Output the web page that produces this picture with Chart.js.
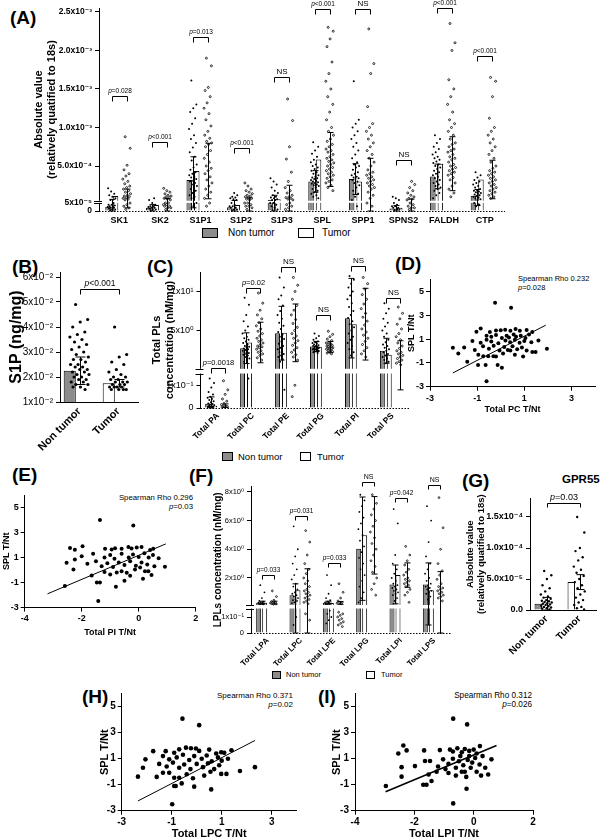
<!DOCTYPE html>
<html>
<head>
<meta charset="utf-8">
<script src="https://cdn.jsdelivr.net/npm/chart.js@4.4.1/dist/chart.umd.min.js"></script>
<style>
  body { margin: 0; width: 600px; height: 839px; overflow: hidden; background: #fff; position: relative;
         font-family: 'Liberation Sans', 'DejaVu Sans', sans-serif; color: #000; }
  canvas { position: absolute; }
  .tag { position: absolute; font-weight: bold; font-size: 19px; line-height: 20px; }
  .t { position: absolute; white-space: nowrap; line-height: 1; }
  .sw { position: absolute; border: 1px solid #000; box-sizing: border-box; }
</style>
</head>
<body>
<div class="tag" style="left:10px;top:8px">(A)</div>
<div class="tag" style="left:12px;top:257px">(B)</div>
<div class="tag" style="left:147px;top:257px">(C)</div>
<div class="tag" style="left:395px;top:254px">(D)</div>
<div class="tag" style="left:12px;top:465px">(E)</div>
<div class="tag" style="left:189px;top:466px">(F)</div>
<div class="tag" style="left:462px;top:471px">(G)</div>
<div class="tag" style="left:82px;top:687px">(H)</div>
<div class="tag" style="left:318px;top:687px">(I)</div>

<!-- legends -->
<div class="sw" style="left:202px;top:228px;width:16px;height:10px;background:#8c8c8c"></div>
<div class="t" style="left:228px;top:228px;font-size:10px">Non tumor</div>
<div class="sw" style="left:298px;top:228px;width:16px;height:10px;background:#fff"></div>
<div class="t" style="left:322px;top:228px;font-size:10px">Tumor</div>

<div class="sw" style="left:222px;top:452px;width:11px;height:9px;background:#8c8c8c"></div>
<div class="t" style="left:238px;top:452px;font-size:9.5px">Non tumor</div>
<div class="sw" style="left:300px;top:452px;width:11px;height:9px;background:#fff"></div>
<div class="t" style="left:317px;top:452px;font-size:9.5px">Tumor</div>

<div class="sw" style="left:272px;top:671px;width:9px;height:8px;background:#8c8c8c"></div>
<div class="t" style="left:286px;top:671px;font-size:7.5px">Non tumor</div>
<div class="sw" style="left:366px;top:671px;width:9px;height:8px;background:#fff"></div>
<div class="t" style="left:381px;top:671px;font-size:7.5px">Tumor</div>

<!-- annotations -->
<div class="t" style="left:518px;top:275px;font-size:7.5px">Spearman Rho 0.232</div>
<div class="t" style="left:518px;top:284px;font-size:7.5px"><i>p</i>=0.028</div>
<div class="t" style="right:407px;top:494px;font-size:7.8px;text-align:right">Spearman Rho 0.296<br><span style="line-height:10px"><i>p</i>=0.03</span></div>
<div class="t" style="right:307px;top:692px;font-size:8px;text-align:right">Spearman Rho 0.371<br><span style="line-height:10px"><i>p</i>=0.02</span></div>
<div class="t" style="right:68px;top:692px;font-size:8.2px;text-align:right">Spearman Rho 0.312<br><span style="line-height:10px"><i>p</i>=0.026</span></div>
<div class="t" style="left:562px;top:474px;font-size:11.5px;font-weight:bold">GPR55</div>

<script>
// ---------- (A) expression per gene, values in units of 1e-5 ----------
const aGenes = ['SK1', 'SK2', 'S1P1', 'S1P2', 'S1P3', 'SPL', 'SPP1', 'SPNS2', 'FALDH', 'CTP'];
const aNtMean = [2.7, 2, 32, 2.3, 6, 30, 33, 1.5, 36.5, 11.5];
const aTuMean = [11, 3.7, 43.5, 3.7, 7, 58.5, 30, 2, 53, 32.5];
const aNtSd = [4, 2, 30, 3, 6, 14, 20, 2, 16, 8];
const aTuSd = [9, 4, 36, 5, 18, 35, 30, 5, 35, 25];
const aNtDots = [
  [0.5, 1, 1, 1.5, 2, 2, 2.5, 3, 3, 3.5, 4, 4, 5, 6, 8, 10, 12, 14, 17, 21],
  [0.5, 1, 1, 1.5, 2, 2, 2.5, 3, 3, 4, 5, 6, 8],
  [161, 130, 125, 120, 112, 105, 98, 90, 85, 80, 74, 68, 62, 57, 52, 48, 45, 42, 40, 38, 36, 35, 33, 31, 30, 28, 26, 24, 22, 20, 18, 15, 12, 10, 8, 5, 3],
  [0.5, 1, 1, 2, 2, 3, 3, 4, 5, 6, 7, 8, 9, 10, 12, 15],
  [0.5, 1, 2, 3, 4, 5, 5, 6, 6, 7, 8, 9, 10, 12, 15, 18, 22, 26, 30, 34],
  [81, 75, 70, 66, 62, 58, 55, 52, 50, 48, 46, 44, 42, 40, 38, 36, 35, 34, 33, 32, 31, 30, 29, 28, 27, 26, 25, 24, 22, 20, 18, 16, 14, 12, 10, 8],
  [160, 110, 105, 100, 95, 90, 85, 80, 75, 70, 65, 60, 55, 52, 50, 48, 45, 42, 40, 38, 36, 35, 34, 33, 32, 30, 28, 25, 22, 18, 14, 10, 6, 3],
  [0.5, 1, 1, 2, 2, 3, 3, 4, 5, 6, 8, 10],
  [90, 85, 80, 75, 72, 68, 65, 62, 60, 58, 56, 54, 52, 50, 48, 46, 44, 42, 40, 38, 36, 34, 32, 30, 28, 26, 24, 22, 20, 18, 15, 12, 8],
  [42, 38, 35, 32, 30, 28, 26, 24, 22, 20, 19, 18, 17, 16, 15, 14, 13, 12, 11, 10, 9, 8, 7, 6, 5, 4, 3]
];
const aTuDots = [
  [88, 73, 51, 45, 40, 37, 33, 30, 27, 24, 22, 20, 18, 16, 14, 12, 11, 10, 9, 8, 7, 6, 5, 4, 3, 2, 1],
  [1, 2, 2, 3, 3, 4, 4, 5, 5, 6, 7, 8, 9, 10, 11, 12, 14, 16, 18, 21],
  [190, 180, 152, 148, 140, 132, 125, 118, 110, 102, 95, 90, 86, 82, 80, 78, 75, 70, 65, 60, 55, 50, 47, 44, 40, 36, 32, 28, 24, 20, 16, 12, 8, 5, 3],
  [1, 2, 3, 3, 4, 5, 5, 6, 7, 8, 9, 10, 11, 12, 14, 16, 18, 20, 24, 28],
  [137, 109, 75, 59, 42, 30, 22, 18, 15, 12, 10, 9, 8, 7, 6, 5, 4, 3, 2, 1],
  [230, 225, 215, 205, 185, 170, 160, 150, 140, 130, 120, 110, 100, 95, 90, 85, 82, 78, 75, 72, 70, 68, 65, 62, 60, 58, 56, 54, 52, 50, 48, 46, 44, 42, 40, 38, 36, 34, 32, 30, 28, 25, 22, 18],
  [228, 183, 170, 127, 105, 100, 95, 90, 85, 80, 75, 70, 65, 60, 55, 50, 45, 42, 40, 38, 36, 34, 32, 30, 28, 26, 24, 22, 20, 16, 12, 8, 5, 3],
  [1, 2, 2, 3, 4, 5, 6, 7, 8, 10, 12, 15, 18, 22, 26, 30],
  [235, 210, 200, 162, 150, 140, 130, 120, 110, 105, 100, 95, 90, 85, 80, 78, 75, 72, 70, 68, 65, 62, 60, 58, 55, 52, 50, 48, 46, 44, 42, 40, 38, 35, 32, 28, 24, 20, 15, 10],
  [165, 160, 140, 112, 100, 95, 90, 85, 80, 75, 70, 65, 60, 55, 50, 47, 44, 42, 40, 38, 36, 34, 32, 30, 28, 26, 24, 22, 20, 18, 16, 14, 12, 10, 8]
];
const aBracket = [140.5, 80.7, 217.7, 73, 166, 253.5, 253.5, 58.4, 254.8, 193];
const aPval = ['p=0.028', 'p<0.001', 'p=0.013', 'p<0.001', 'NS', 'p<0.001', 'NS', 'NS', 'p<0.001', 'p<0.001'];
const aTicks = [0, 5, 50, 100, 150, 200, 250];
const aTickLabels = ['0', '5x10⁻⁵', '5.0x10⁻⁴', '1.0x10⁻³', '1.5x10⁻³', '2.0x10⁻³', '2.5x10⁻³'];

// ---------- (B) S1P ng/mg ----------
const bGroups = ['Non tumor', 'Tumor'];
const bMean = [0.0225, 0.0175];
const bSd = [0.0055, 0.0015];
const bNtDots = [0.049, 0.043, 0.042, 0.04, 0.038, 0.037, 0.036, 0.035, 0.034, 0.033, 0.032, 0.031, 0.03, 0.029, 0.028, 0.027, 0.027, 0.026, 0.025, 0.025, 0.024, 0.024, 0.023, 0.023, 0.022, 0.022, 0.021, 0.021, 0.02, 0.02, 0.019, 0.019, 0.018, 0.018, 0.017, 0.017, 0.016, 0.016, 0.015];
const bTuDots = [0.04, 0.029, 0.028, 0.026, 0.025, 0.023, 0.022, 0.021, 0.02, 0.02, 0.019, 0.019, 0.018, 0.018, 0.018, 0.017, 0.017, 0.017, 0.016, 0.016, 0.016, 0.016, 0.015, 0.015, 0.015, 0.015];
const bBracket = 0.0553;
const bPval = 'p<0.001';
const bTicks = [0.01, 0.02, 0.03, 0.04, 0.05, 0.06];
const bTickLabels = ['1x10⁻²', '2x10⁻²', '3x10⁻²', '4x10⁻²', '5x10⁻²', '6x10⁻²'];

// ---------- (C) phospholipids nM/mg ----------
const cLipids = ['Total PA', 'Total PC', 'Total PE', 'Total PG', 'Total PI', 'Total PS'];
const cNtMean = [0.019, 2.73, 4.65, 2.95, 6.58, 2.4];
const cTuMean = [0.01, 3.46, 4.7, 2.9, 5.81, 1.88];
const cNtSd = [0.03, 1.97, 3.45, 0.65, 5.1, 1.6];
const cTuSd = [0.008, 2.6, 3.7, 0.7, 4.6, 1.8];
const cNtDots = [
  [0.13, 0.11, 0.09, 0.07, 0.06, 0.05, 0.045, 0.04, 0.035, 0.03, 0.025, 0.02, 0.018, 0.015, 0.012, 0.01, 0.008, 0.006, 0.005, 0.004, 0.003, 0.002],
  [9.2, 8.3, 7.0, 6.2, 5.5, 5.0, 4.6, 4.2, 4.0, 3.8, 3.6, 3.4, 3.2, 3.0, 2.9, 2.8, 2.7, 2.6, 2.5, 2.4, 2.3, 2.2, 2.1, 2.0, 1.9, 1.8, 1.6, 1.4, 1.2, 1.0, 0.13],
  [11.8, 10.5, 9.5, 9.0, 8.2, 7.5, 7.0, 6.5, 6.0, 5.6, 5.2, 4.8, 4.5, 4.2, 3.9, 3.6, 3.3, 3.0, 2.8, 2.6, 2.4, 2.2, 2.0, 1.8, 1.6, 1.3, 1.0, 0.08],
  [4.6, 4.3, 4.0, 3.8, 3.6, 3.5, 3.4, 3.3, 3.2, 3.1, 3.0, 3.0, 2.9, 2.9, 2.8, 2.8, 2.7, 2.7, 2.6, 2.6, 2.5, 2.5, 2.4, 2.3, 2.2, 2.1],
  [12.0, 11.5, 11.0, 10.5, 10.0, 9.5, 9.0, 8.5, 8.0, 7.5, 7.0, 6.6, 6.2, 5.8, 5.4, 5.0, 4.6, 4.2, 3.8, 3.4, 3.0, 2.6, 2.2, 1.8],
  [8.5, 7.8, 7.2, 6.5, 6.0, 5.5, 5.0, 4.6, 4.2, 3.8, 3.5, 3.2, 3.0, 2.8, 2.6, 2.4, 2.2, 2.0, 1.8, 1.6, 1.4, 1.2, 1.0, 0.8]
];
const cTuDots = [
  [0.12, 0.08, 0.06, 0.04, 0.03, 0.02, 0.015, 0.01, 0.008, 0.006, 0.005, 0.004, 0.003, 0.002],
  [9.8, 8.5, 7.6, 7.0, 6.5, 6.0, 5.6, 5.2, 4.9, 4.6, 4.3, 4.0, 3.8, 3.6, 3.4, 3.2, 3.0, 2.9, 2.8, 2.6, 2.4, 2.2, 2.0, 1.8, 1.5, 1.2],
  [11.8, 10.8, 10.0, 9.0, 8.2, 7.6, 7.0, 6.4, 5.9, 5.4, 5.0, 4.6, 4.3, 4.0, 3.7, 3.4, 3.1, 2.8, 2.5, 2.2, 1.9, 1.6, 1.2, 0.1, 0.05],
  [4.9, 4.5, 4.2, 3.9, 3.7, 3.5, 3.4, 3.3, 3.2, 3.1, 3.0, 3.0, 2.9, 2.9, 2.8, 2.8, 2.7, 2.7, 2.6, 2.6, 2.5, 2.4, 2.3, 2.2, 2.1, 2.0],
  [11.8, 11.0, 10.3, 9.6, 9.0, 8.4, 7.8, 7.2, 6.7, 6.2, 5.7, 5.2, 4.8, 4.4, 4.0, 3.6, 3.2, 2.8, 2.4, 2.0, 1.6],
  [8.0, 7.2, 6.5, 5.8, 5.2, 4.6, 4.2, 3.8, 3.4, 3.0, 2.7, 2.4, 2.2, 2.0, 1.8, 1.6, 1.4, 1.2, 1.0, 0.8, 0.6]
];
const cBracket = [0.25, 10.4, 13.2, 7.0, 13.3, 9.2];
const cPval = ['p=0.0018', 'p=0.02', 'NS', 'NS', 'NS', 'NS'];
const cTicks = [0, 0.1, 5, 10];
const cTickLabels = ['0', '1x10⁻¹', '5x10⁰', '1x10¹'];

// ---------- (F) lysophospholipids nM/mg ----------
const fLipids = ['Total LPA', 'Total LPC', 'Total LPE', 'Total LPG', 'Total LPI', 'Total LPS'];
const fNtMean = [0.28, 0.79, 0.28, 4.04, 1.55, 1.55];
const fTuMean = [0.28, 1.14, 0.26, 4.97, 2.2, 1.14];
const fNtSd = [0.1, 0.8, 0.1, 3.6, 1.35, 1.5];
const fTuSd = [0.1, 1.5, 0.1, 2.7, 0.85, 1.3];
const fNtDots = [
  [1.5, 1.0, 0.6, 0.4, 0.35, 0.3, 0.28, 0.26, 0.24, 0.22, 0.2, 0.18, 0.16],
  [5.6, 4.0, 3.5, 3.0, 2.6, 2.2, 1.9, 1.6, 1.4, 1.2, 1.0, 0.9, 0.8, 0.7, 0.6, 0.5, 0.45, 0.4, 0.3, 0.25, 0.1, 0.05],
  [2.2, 1.5, 0.9, 0.6, 0.45, 0.35, 0.3, 0.27, 0.25, 0.22, 0.2, 0.18, 0.14, 0.12, 0.1, 0.08, 0.06],
  [7.8, 7.4, 7.0, 6.6, 6.2, 5.8, 5.4, 5.0, 4.6, 4.2, 3.8, 3.4, 3.0, 2.6, 2.2, 1.8, 1.4, 1.0, 0.6, 0.3],
  [6.8, 5.8, 3.6, 3.0, 2.6, 2.3, 2.0, 1.8, 1.6, 1.5, 1.4, 1.3, 1.2, 1.1, 1.0, 0.9, 0.8, 0.6, 0.4],
  [7.0, 6.0, 4.5, 3.5, 3.0, 2.6, 2.3, 2.0, 1.8, 1.6, 1.5, 1.4, 1.3, 1.2, 1.1, 1.0, 0.9, 0.7, 0.5]
];
const fTuDots = [
  [1.1, 0.7, 0.45, 0.35, 0.3, 0.27, 0.25, 0.23, 0.21, 0.19, 0.17],
  [5.3, 4.5, 3.6, 3.0, 2.6, 2.3, 2.0, 1.8, 1.6, 1.4, 1.2, 1.1, 1.0, 0.9, 0.8, 0.7, 0.6, 0.5, 0.4, 0.3, 0.2, 0.12, 0.08],
  [1.6, 1.0, 0.6, 0.4, 0.3, 0.26, 0.24, 0.2, 0.13, 0.12, 0.11, 0.1, 0.09, 0.08, 0.07, 0.06, 0.05, 0.04],
  [7.8, 7.2, 6.8, 6.4, 6.0, 5.6, 5.2, 4.8, 4.4, 4.0, 3.6, 3.2, 2.8, 2.4, 2.0, 1.6, 1.2, 0.8],
  [4.2, 3.6, 3.2, 2.9, 2.6, 2.4, 2.2, 2.0, 1.9, 1.8, 1.7, 1.6, 1.5, 1.4, 1.2, 1.0, 0.8, 0.3],
  [7.6, 5.5, 4.0, 3.0, 2.5, 2.2, 1.9, 1.6, 1.4, 1.3, 1.2, 1.1, 1.0, 0.9, 0.8, 0.7, 0.6, 0.4]
];
const fBracket = [2.21, 6.32, 3.06, 8.71, 7.59, 8.48];
const fPval = ['p=0.033', 'p=0.031', 'p=0.033', 'NS', 'p=0.042', 'NS'];
const fTicks = [0, 0.1, 2, 4, 6, 8];
const fTickLabels = ['0', '1x10⁻¹', '2x10⁰', '4x10⁰', '6x10⁰', '8x10⁰'];

// ---------- (G) GPR55, values in units of 1e-5 ----------
const gGroups = ['Non tumor', 'Tumor'];
const gMean = [1.0, 4.5];
const gSd = [1.0, 1.2];
const gNtDots = [6.3, 5.6, 5.0, 4.0, 3.5, 3.0, 2.5, 2.2, 2.0, 1.8, 1.6, 1.5, 1.4, 1.3, 1.2, 1.1, 1.0, 0.9, 0.8, 0.7, 0.6, 0.5, 0.4, 0.3, 0.2, 0.1];
const gTuDots = [15, 12.5, 10, 9.5, 8.5, 8, 7, 6.5, 6, 5.5, 5, 4.5, 4, 3.5, 3, 2.5, 2, 1.6, 1.2, 0.8, 0.5, 0.3, 0.1];
const gBracket = 17.3;
const gPval = 'p=0.03';
const gTicks = [0, 5, 10, 15];
const gTickLabels = ['0.0', '5.0x10⁻⁵', '1.0x10⁻⁴', '1.5x10⁻⁴'];

// ---------- correlations (T/Nt ratios) ----------
const dPcTNt = [-0.24, 0.44, -2.03, -0.6, 1.96, -1.42,
  -0.85, -1.03, -0.46, -0.2, 0.0, 0.19, 0.41, 0.63, 0.81, 1.1, 1.34,
  -0.6, -0.4, -0.2, 0.05, 0.25, 0.35, 0.55, 0.65, 0.85, 1.05, 1.2,
  -1.2, -0.85, -0.6, -0.4, -0.1, 0.2, 0.4, 0.6, 0.8, 1.0, 1.3, 1.6,
  -1.55, -1.1, -0.75, -0.5, -0.3, -0.05, 0.15, 0.3, 0.5, 0.7, 0.9, 1.1, 1.34, 1.48, 0.41,
  -1.8, -0.95, -0.74, -0.53, -0.31, -0.2, 0.1, 0.6, 0.95,
  -0.96, -0.64, -0.13, 0.05];
const dSplTNt = [4.06, 3.64, 0.27, -2.55, 0.2, -0.9,
  1.9, 1.62, 1.6, 1.73, 1.75, 1.8, 1.7, 1.85, 1.72, 1.78, 1.6,
  1.3, 1.2, 1.35, 1.1, 1.3, 1.15, 1.4, 1.2, 1.3, 1.1, 1.4,
  0.85, 0.7, 0.95, 0.8, 0.65, 0.9, 0.75, 0.95, 0.7, 0.85, 0.75, 0.9,
  0.3, 0.1, 0.4, 0.2, 0.45, 0.05, 0.35, 0.1, 0.4, 0.15, 0.3, 0.05, -0.07, -0.07, 0.05,
  -0.2, -0.3, -0.43, -0.43, -0.43, -0.45, -0.2, -0.3, -0.45,
  -1.17, -1.17, -1.17, -1.4];
const dFitX = [-2.03, 1.91];
const dFitY = [-1.84, 2.18];

const ePiTNt = [-1.36, -0.19, -2.41, -2.24, -1.97, -1.18, -0.95, -0.83, -0.6, -0.36, -0.25, -0.07, 0.1, 0.4, 0.51,
  -2.0, -1.6, -1.2, -1.0, -0.85, -0.6, -0.35, -0.2, 0.0, 0.2, 0.35, 0.5, 0.7,
  -2.53, -2.24, -1.8, -1.5, -1.3, -1.1, -0.9, -0.7, -0.5, -0.3, -0.1, 0.1, 0.3, 0.55, 0.92,
  -2.29, -1.0, -0.77, -0.6, -0.42, -0.13, 0.05, 0.22, 0.34, -1.65, -1.2, -0.3, 0.45,
  -2.59, -1.47, -1.36, -0.8, -1.42, -0.5, 0.15];
const eSplTNt = [4.0, 3.56, 1.77, 1.63, 1.9, 1.7, 1.65, 1.75, 1.7, 1.85, 1.72, 1.8, 1.85, 1.6, 1.7,
  1.1, 1.3, 1.0, 1.2, 0.9, 1.3, 1.0, 1.25, 1.05, 1.35, 1.0, 1.2, 0.95,
  0.58, 0.84, 0.5, 0.7, 0.3, 0.55, 0.25, 0.6, 0.4, 0.7, 0.35, 0.6, 0.45, 0.3, 0.26,
  0.05, -0.35, -0.2, -0.1, -0.22, 0.05, 0.2, -0.1, -0.09, -0.43, -0.15, -0.45, -0.4,
  -1.28, -1.0, -1.0, -1.33, -2.47, -0.85, -0.7];
const eFitX = [-3.2, 0.95];
const eFitY = [-1.9, 2.09];

const hLpcTNt = [-0.57, 0.1, -1.74, -2.05, -2.15, -2.35, -0.98, -0.9, -0.84, -0.1, 0.58, 2.33, 1.73, 0.98, 1.19, 1.25, 1.39, 0.98, 1.1,
  -1.24, -0.9, -0.7, -0.43, -0.23, -0.03, 0.1, 0.5, 0.78,
  -1.35, -1.1, -0.8, -0.55, -0.3, -0.1, 0.2, 0.4, 0.6, 0.85,
  -1.5, -1.2, -0.95, -0.7, -0.5, -0.25, 0.0, 0.25, 0.45, 0.7, 0.9, 1.0,
  -1.35, -1.1, -0.9, -0.7, -0.4, -0.15, 0.3, 0.55, -1.6, -0.6];
const hSplTNt = [4.08, 3.58, 1.58, 0.95, 0.3, -0.38, -2.5, -1.1, -1.1, -1.15, -1.36, 0.35, 0.05, -0.17, -0.17, 1.0, 1.65, 1.5, 1.45,
  1.58, 1.46, 1.72, 1.85, 1.8, 1.78, 1.6, 1.7, 1.4,
  1.2, 0.95, 1.1, 1.3, 0.9, 1.2, 1.0, 1.25, 0.8, 1.1,
  0.6, 0.4, 0.7, 0.3, 0.55, 0.2, 0.6, 0.35, 0.65, 0.2, 0.5, 0.85,
  -0.08, -0.08, -0.46, -0.46, -0.2, -0.5, -0.3, 0.0, -0.4, -0.9];
const hFitX = [-2.35, 2.33];
const hFitY = [-2.25, 2.4];

const iLpiTNt = [-0.69, -0.22, -0.69, -0.24, -2.96, -2.37, -2.26, -2.54, -2.43, -2.43, -1.67, -1.98, -1.64, -1.47, -1.7, -1.59, -1.42, -1.52, -1.14, -1.03, 0.6, 0.49, 0.39, 0.21,
  -0.8, -0.7, -0.55, -0.4, -0.3, -0.15, 0.0, 0.1,
  -1.2, -0.95, -0.85, -0.7, -0.6, -0.5, -0.45, -0.35, -0.3, -0.2, -0.15, -0.1, -0.05, 0.05, 0.1, 0.2, 0.3, -0.6, -0.25, 0.25, -0.85, -1.25, -0.4];
const iSplTNt = [4.08, 3.64, -2.44, -1.31, -1.1, 2.02, 1.64, 1.4, 0.35, -0.38, 1.64, 0.43, 0.82, 0.82, -1.0, -1.0, -0.72, -0.21, 1.66, 0.95, 0.95, -0.21, 0.3, 1.97,
  1.7, 1.55, 1.8, 1.5, 1.75, 1.6, 1.7, 1.4,
  0.4, 0.2, 0.6, 1.0, 0.3, 0.8, 1.2, 0.5, 0.0, 0.9, 1.2, 0.3, 0.7, 1.05, 0.0, 0.55, 1.2, -0.3, -0.4, -0.3, -0.1, 0.0, 0.0];
const iFitX = [-2.97, 0.77];
const iFitY = [-1.54, 2.02];

// ---------- drawing ----------
const FONT = "'Liberation Sans', 'DejaVu Sans', sans-serif";
const GRAY = '#8c8c8c';
Chart.defaults.font.family = FONT;
Chart.defaults.color = '#000';

// broken axes: value -> axis units (lower segment stretched, upper segment compressed)
const dA = v => v <= 5 ? v * 1.6 : 6.5 + v * 0.774;
const dC = v => v <= 0.15 ? v * 227 : 39.7 + (v - 0.15) * 7.8;
const dF = v => v <= 0.15 ? v * 160 : 28.5 + (v - 0.15) * 14.35;
const same = v => v;

function canvasAt(box) {
  const c = document.createElement('canvas');
  c.width = box[2]; c.height = box[3];
  c.style.left = box[0] + 'px'; c.style.top = box[1] + 'px';
  document.body.appendChild(c);
  return c;
}

function drawP(ctx, s, cx, by, size) {
  const nf = size + 'px ' + FONT, itf = 'italic ' + nf;
  ctx.textBaseline = 'alphabetic';
  ctx.fillStyle = '#000';
  if (s[0] === 'p') {
    ctx.font = itf; const w1 = ctx.measureText('p').width;
    ctx.font = nf; const w2 = ctx.measureText(s.slice(1)).width;
    const x = cx - (w1 + w2) / 2;
    ctx.textAlign = 'left';
    ctx.font = itf; ctx.fillText('p', x, by);
    ctx.font = nf; ctx.fillText(s.slice(1), x + w1, by);
  } else {
    ctx.font = nf; ctx.textAlign = 'center'; ctx.fillText(s, cx, by);
  }
}

function makePanelPlugin(cfg) {
  return {
    id: 'panel',
    // NT bars are drawn last of the two bar sets, the gap goes in right after them
    afterDatasetDraw(chart, args) {
      if (!cfg.brk || args.index !== 0) return;
      const a = chart.chartArea, y = chart.scales.y, ctx = chart.ctx;
      const lo = y.getPixelForValue(cfg.brk[0]), hi = y.getPixelForValue(cfg.brk[1]);
      ctx.save();
      ctx.fillStyle = '#fff';
      ctx.fillRect(a.left + 1, hi, a.right - a.left, lo - hi);
      ctx.restore();
    },
    afterDraw(chart) {
      const ctx = chart.ctx, a = chart.chartArea, y = chart.scales.y, xd = chart.scales.xd;
      const py = v => y.getPixelForValue(cfg.d(v));
      ctx.save();
      ctx.strokeStyle = '#000'; ctx.lineWidth = 1;
      if (cfg.dotted) {
        ctx.setLineDash([1.5, 1.5]);
        ctx.beginPath(); ctx.moveTo(a.left, a.bottom + 0.5); ctx.lineTo(a.right, a.bottom + 0.5); ctx.stroke();
        ctx.setLineDash([]);
      }
      cfg.bars.forEach(b => {
        const x = Math.round(xd.getPixelForValue(b.x)) + 0.5;
        const t = py(b.mean + b.sd), u = py(Math.max(b.mean - b.sd, cfg.yMin));
        ctx.beginPath();
        ctx.moveTo(x, t); ctx.lineTo(x, u);
        ctx.moveTo(x - cfg.cap, t); ctx.lineTo(x + cfg.cap, t);
        ctx.moveTo(x - cfg.cap, u); ctx.lineTo(x + cfg.cap, u);
        ctx.stroke();
      });
      cfg.brackets.forEach(k => {
        const x1 = Math.round(xd.getPixelForValue(k.x1)) + 0.5, x2 = Math.round(xd.getPixelForValue(k.x2)) + 0.5;
        const yy = Math.round(py(k.v)) + 0.5;
        ctx.beginPath();
        ctx.moveTo(x1, yy + cfg.leg); ctx.lineTo(x1, yy); ctx.lineTo(x2, yy); ctx.lineTo(x2, yy + cfg.leg);
        ctx.stroke();
        const sz = k.txt === 'NS' ? cfg.nsSize : cfg.pSize;
        drawP(ctx, k.txt, (x1 + x2) / 2, yy - 2 - sz * 0.22, sz);
      });
      if (cfg.brk) {
        const lo = y.getPixelForValue(cfg.brk[0]), hi = y.getPixelForValue(cfg.brk[1]);
        ctx.fillStyle = '#fff';
        ctx.fillRect(a.left - 2, hi, 4, lo - hi);
        ctx.beginPath();
        ctx.moveTo(a.left - 5, Math.round(lo) + 0.5); ctx.lineTo(a.left + 3, Math.round(lo) + 0.5);
        ctx.moveTo(a.left - 5, Math.round(hi) + 0.5); ctx.lineTo(a.left + 3, Math.round(hi) + 0.5);
        ctx.stroke();
      }
      ctx.restore();
    }
  };
}

function barPanel(o) {
  const cv = canvasAt(o.box);
  const n = o.cats.length, d = o.d;
  const sers = [o.nt, o.tu];
  const offs = o.grouped ? [-o.cp / 4, o.cp / 4] : [0, 0];
  const jit = k => (((k * 0.618034 + 0.3) % 1) - 0.5) * o.spread;
  const datasets = [], bars = [], pts = [[], []];
  sers.forEach((s, g) => {
    datasets.push({
      type: 'bar', data: s.mean.map(m => m == null ? null : d(m)),
      backgroundColor: g ? '#fff' : GRAY, borderColor: '#000', borderWidth: 1,
      categoryPercentage: o.cp, barPercentage: o.bp, skipNull: true, order: 2
    });
    s.mean.forEach((m, i) => { if (m != null) bars.push({ x: i + offs[g], mean: m, sd: s.sd[i] }); });
    s.dots.forEach((arr, i) => {
      if (!arr) return;
      arr.forEach((v, k) => pts[g].push({ x: i + offs[g] + jit(k), y: d(v) }));
    });
  });
  // non-tumour dots filled; tumour dots small open rings in the grouped panels
  pts.forEach((p, g) => {
    const open = g === 1 && o.grouped;
    datasets.push({ type: 'scatter', data: p, xAxisID: 'xd', yAxisID: 'y',
      pointRadius: o.dot,
      pointBackgroundColor: open ? '#fff' : '#000', pointBorderColor: '#000',
      pointBorderWidth: open ? 0.8 : 0, order: 1 });
  });

  const brackets = o.grouped
    ? o.cats.map((c, i) => ({ x1: i + offs[0], x2: i + offs[1], v: o.bracketV[i], txt: o.bracketT[i] }))
    : [{ x1: 0, x2: 1, v: o.bracketV, txt: o.bracketT }];

  const cfg = { d, bars, brackets, yMin: o.yMin, cap: o.cap, leg: o.leg, pSize: o.pSize, nsSize: o.nsSize,
    brk: o.brk, dotted: o.dotted };

  new Chart(cv, {
    type: 'bar',
    data: { labels: o.cats, datasets },
    options: {
      responsive: false, animation: false, devicePixelRatio: 1,
      layout: { padding: o.pad },
      plugins: { legend: { display: false }, tooltip: { enabled: false } },
      scales: {
        x: {
          type: 'category', offset: true, grid: { display: false, drawTicks: false, tickLength: 0 },
          border: { display: !o.dotted, color: '#000', width: 1 },
          ticks: { color: '#000', font: o.xFont, padding: o.xPad, minRotation: o.rot, maxRotation: o.rot, autoSkip: false },
          afterFit: s => { s.height = o.xH; }
        },
        xd: { type: 'linear', display: false, offset: false, min: -0.5, max: n - 0.5 },
        y: {
          type: 'linear', min: d(o.yMin), max: d(o.yMax),
          afterBuildTicks: s => { s.ticks = o.tickVals.map(v => ({ value: d(v) })); },
          ticks: { callback: (v, i) => o.tickLabels[i], color: '#000', font: o.yFont, padding: 3, autoSkip: false },
          grid: { display: true, drawOnChartArea: false, drawTicks: true, tickLength: 4, color: '#000' },
          border: { display: true, color: '#000', width: 1 },
          title: { display: true, text: o.yTitle, color: '#000', font: o.yTitleFont, padding: { top: o.yTitlePad, bottom: 0 } },
          afterFit: s => { s.width = o.yW; }
        }
      }
    },
    plugins: [makePanelPlugin(cfg)]
  });
}

function scatterPanel(o) {
  const cv = canvasAt(o.box);
  const axis = (min, max, ticks, title, size, isY) => ({
    type: 'linear', min, max,
    afterBuildTicks: s => { s.ticks = ticks.map(v => ({ value: v })); },
    ticks: { color: '#000', font: { size: o.tickSize, weight: 'bold' }, padding: 2, autoSkip: false, maxRotation: 0 },
    grid: { display: true, drawOnChartArea: false, drawTicks: true, tickLength: 4, color: '#000' },
    border: { display: true, color: '#000', width: 1 },
    title: { display: true, text: title, color: '#000', font: { size: o.titleSize, weight: 'bold' },
      padding: isY ? { top: o.yTitlePad, bottom: 0 } : { top: 0, bottom: 0 } },
    afterFit: s => { if (isY) s.width = size; else s.height = size; }
  });
  new Chart(cv, {
    type: 'scatter',
    data: {
      datasets: [
        { data: o.xs.map((x, k) => ({ x: x, y: o.ys[k] })), pointRadius: o.r, pointBackgroundColor: '#000',
          pointBorderWidth: 0, order: 1 },
        { type: 'line', data: o.fitX.map((x, k) => ({ x: x, y: o.fitY[k] })), borderColor: '#000',
          borderWidth: o.lw, pointRadius: 0, fill: false, order: 0 }
      ]
    },
    options: {
      responsive: false, animation: false, devicePixelRatio: 1,
      layout: { padding: o.pad },
      plugins: { legend: { display: false }, tooltip: { enabled: false } },
      scales: {
        x: axis(o.xMin, o.xMax, o.xTicks, o.xTitle, o.xH, false),
        y: axis(-3, 6, [-3, -1, 1, 3, 5], 'SPL T/Nt', o.yW, true)
      }
    }
  });
}

// (A)
barPanel({
  box: [0, 0, 600, 245], pad: { left: 0, right: 95, top: 7, bottom: 14 }, yW: 99, xH: 20,
  cats: aGenes, grouped: true, cp: 0.74, bp: 0.73, spread: 0.2, dot: 1,
  nt: { mean: aNtMean, sd: aNtSd, dots: aNtDots }, tu: { mean: aTuMean, sd: aTuSd, dots: aTuDots },
  d: dA, yMin: 0, yMax: 255, tickVals: aTicks, tickLabels: aTickLabels,
  yFont: { size: 8.5, weight: 'bold' }, yTitle: ['Absolute value', '(relatively quatified to 18s)'],
  yTitleFont: { size: 11, weight: 'bold' }, yTitlePad: 31.9,
  xFont: { size: 9, weight: 'bold' }, xPad: 4, rot: 0,
  bracketV: aBracket, bracketT: aPval, pSize: 6.5, nsSize: 8, leg: 5, cap: 3,
  brk: [8.2, 10.3], dotted: true
});

// (B)
barPanel({
  box: [0, 255, 145, 205], pad: { left: 0, right: 7, top: 17, bottom: 8 }, yW: 60, xH: 50,
  cats: bGroups, grouped: false, cp: 1, bp: 0.62, spread: 0.5, dot: 1.6,
  nt: { mean: [bMean[0], null], sd: [bSd[0], null], dots: [bNtDots, null] },
  tu: { mean: [null, bMean[1]], sd: [null, bSd[1]], dots: [null, bTuDots] },
  d: same, yMin: 0.01, yMax: 0.062, tickVals: bTicks, tickLabels: bTickLabels,
  yFont: { size: 10 }, yTitle: 'S1P (ng/mg)', yTitleFont: { size: 16, weight: 'bold' }, yTitlePad: 7.4,
  xFont: { size: 11, weight: 'bold' }, xPad: 3, rot: 45,
  bracketV: bBracket, bracketT: bPval, pSize: 8.5, nsSize: 8.5, leg: 5, cap: 5,
  brk: null, dotted: false
});

// (C)
barPanel({
  box: [145, 255, 270, 210], pad: { left: 0, right: 2, top: 17, bottom: 12 }, yW: 55.5, xH: 45,
  cats: cLipids, grouped: true, cp: 0.79, bp: 0.71, spread: 0.2, dot: 1,
  nt: { mean: cNtMean, sd: cNtSd, dots: cNtDots }, tu: { mean: cTuMean, sd: cTuSd, dots: cTuDots },
  d: dC, yMin: 0, yMax: 12.5, tickVals: cTicks, tickLabels: cTickLabels,
  yFont: { size: 9 }, yTitle: ['Total PLs', 'concentration (nM/mg)'], yTitleFont: { size: 11, weight: 'bold' }, yTitlePad: 5.1,
  xFont: { size: 8.5, weight: 'bold' }, xPad: 3, rot: 45,
  bracketV: cBracket, bracketT: cPval, pSize: 7.5, nsSize: 8, leg: 5, cap: 3,
  brk: [34.5, 39.2], dotted: true
});

// (F)
barPanel({
  box: [205, 470, 265, 215], pad: { left: 0, right: 19, top: 16.7, bottom: 12 }, yW: 46, xH: 40,
  cats: fLipids, grouped: true, cp: 0.72, bp: 0.83, spread: 0.2, dot: 0.9,
  nt: { mean: fNtMean, sd: fNtSd, dots: fNtDots }, tu: { mean: fTuMean, sd: fTuSd, dots: fTuDots },
  d: dF, yMin: 0, yMax: 8.36, tickVals: fTicks, tickLabels: fTickLabels,
  yFont: { size: 7.5 }, yTitle: 'LPLs concentration (nM/mg)', yTitleFont: { size: 10, weight: 'bold' }, yTitlePad: 7,
  xFont: { size: 8, weight: 'bold' }, xPad: 3, rot: 45,
  bracketV: fBracket, bracketT: fPval, pSize: 6.5, nsSize: 7, leg: 4, cap: 3,
  brk: [24.5, 28], dotted: true
});

// (G)
barPanel({
  box: [455, 470, 145, 190], pad: { left: 0, right: 2, top: 28.4, bottom: 5 }, yW: 75, xH: 45,
  cats: gGroups, grouped: false, cp: 1, bp: 0.45, spread: 0.35, dot: 1.2,
  nt: { mean: [gMean[0], null], sd: [gSd[0], null], dots: [gNtDots, null] },
  tu: { mean: [null, gMean[1]], sd: [null, gSd[1]], dots: [null, gTuDots] },
  d: same, yMin: 0, yMax: 18, tickVals: gTicks, tickLabels: gTickLabels,
  yFont: { size: 9, weight: 'bold' }, yTitle: ['Absolute value', '(relatively quatified to 18s)'],
  yTitleFont: { size: 9.5, weight: 'bold' }, yTitlePad: 9.3,
  xFont: { size: 10, weight: 'bold' }, xPad: 3, rot: 45,
  bracketV: gBracket, bracketT: gPval, pSize: 9, nsSize: 9, leg: 4, cap: 4,
  brk: null, dotted: false
});

// (D)
scatterPanel({
  box: [395, 255, 205, 165], pad: { left: 0, right: 5, top: 24.8, bottom: 5.3 }, yW: 35, xH: 28,
  xs: dPcTNt, ys: dSplTNt, fitX: dFitX, fitY: dFitY, xMin: -3, xMax: 4, xTicks: [-3, -1, 1, 3],
  xTitle: 'Total PC T/Nt', tickSize: 9, titleSize: 9, yTitlePad: 11.6, r: 2, lw: 1
});
// (E)
scatterPanel({
  box: [0, 470, 215, 170], pad: { left: 0, right: 19.3, top: 25, bottom: 2.4 }, yW: 24.7, xH: 30,
  xs: ePiTNt, ys: eSplTNt, fitX: eFitX, fitY: eFitY, xMin: -4, xMax: 2, xTicks: [-4, -2, 0, 2],
  xTitle: 'Total PI T/Nt', tickSize: 9, titleSize: 9, yTitlePad: 1.6, r: 2, lw: 1
});
// (H)
scatterPanel({
  box: [60, 685, 250, 160], pad: { left: 0, right: 13.3, top: 8.7, bottom: 4.3 }, yW: 61.7, xH: 30,
  xs: hLpcTNt, ys: hSplTNt, fitX: hFitX, fitY: hFitY, xMin: -3, xMax: 4, xTicks: [-3, -1, 1, 3],
  xTitle: 'Total LPC T/Nt', tickSize: 10, titleSize: 11, yTitlePad: 38.7, r: 2.3, lw: 1
});
// (I)
scatterPanel({
  box: [310, 685, 290, 160], pad: { left: 0, right: 67, top: 8.7, bottom: 4.3 }, yW: 45, xH: 30,
  xs: iLpiTNt, ys: iSplTNt, fitX: iFitX, fitY: iFitY, xMin: -4, xMax: 2, xTicks: [-4, -2, 0, 2],
  xTitle: 'Total LPI T/Nt', tickSize: 10, titleSize: 11, yTitlePad: 20.4, r: 2.3, lw: 1.6
});
</script>
</body>
</html>
